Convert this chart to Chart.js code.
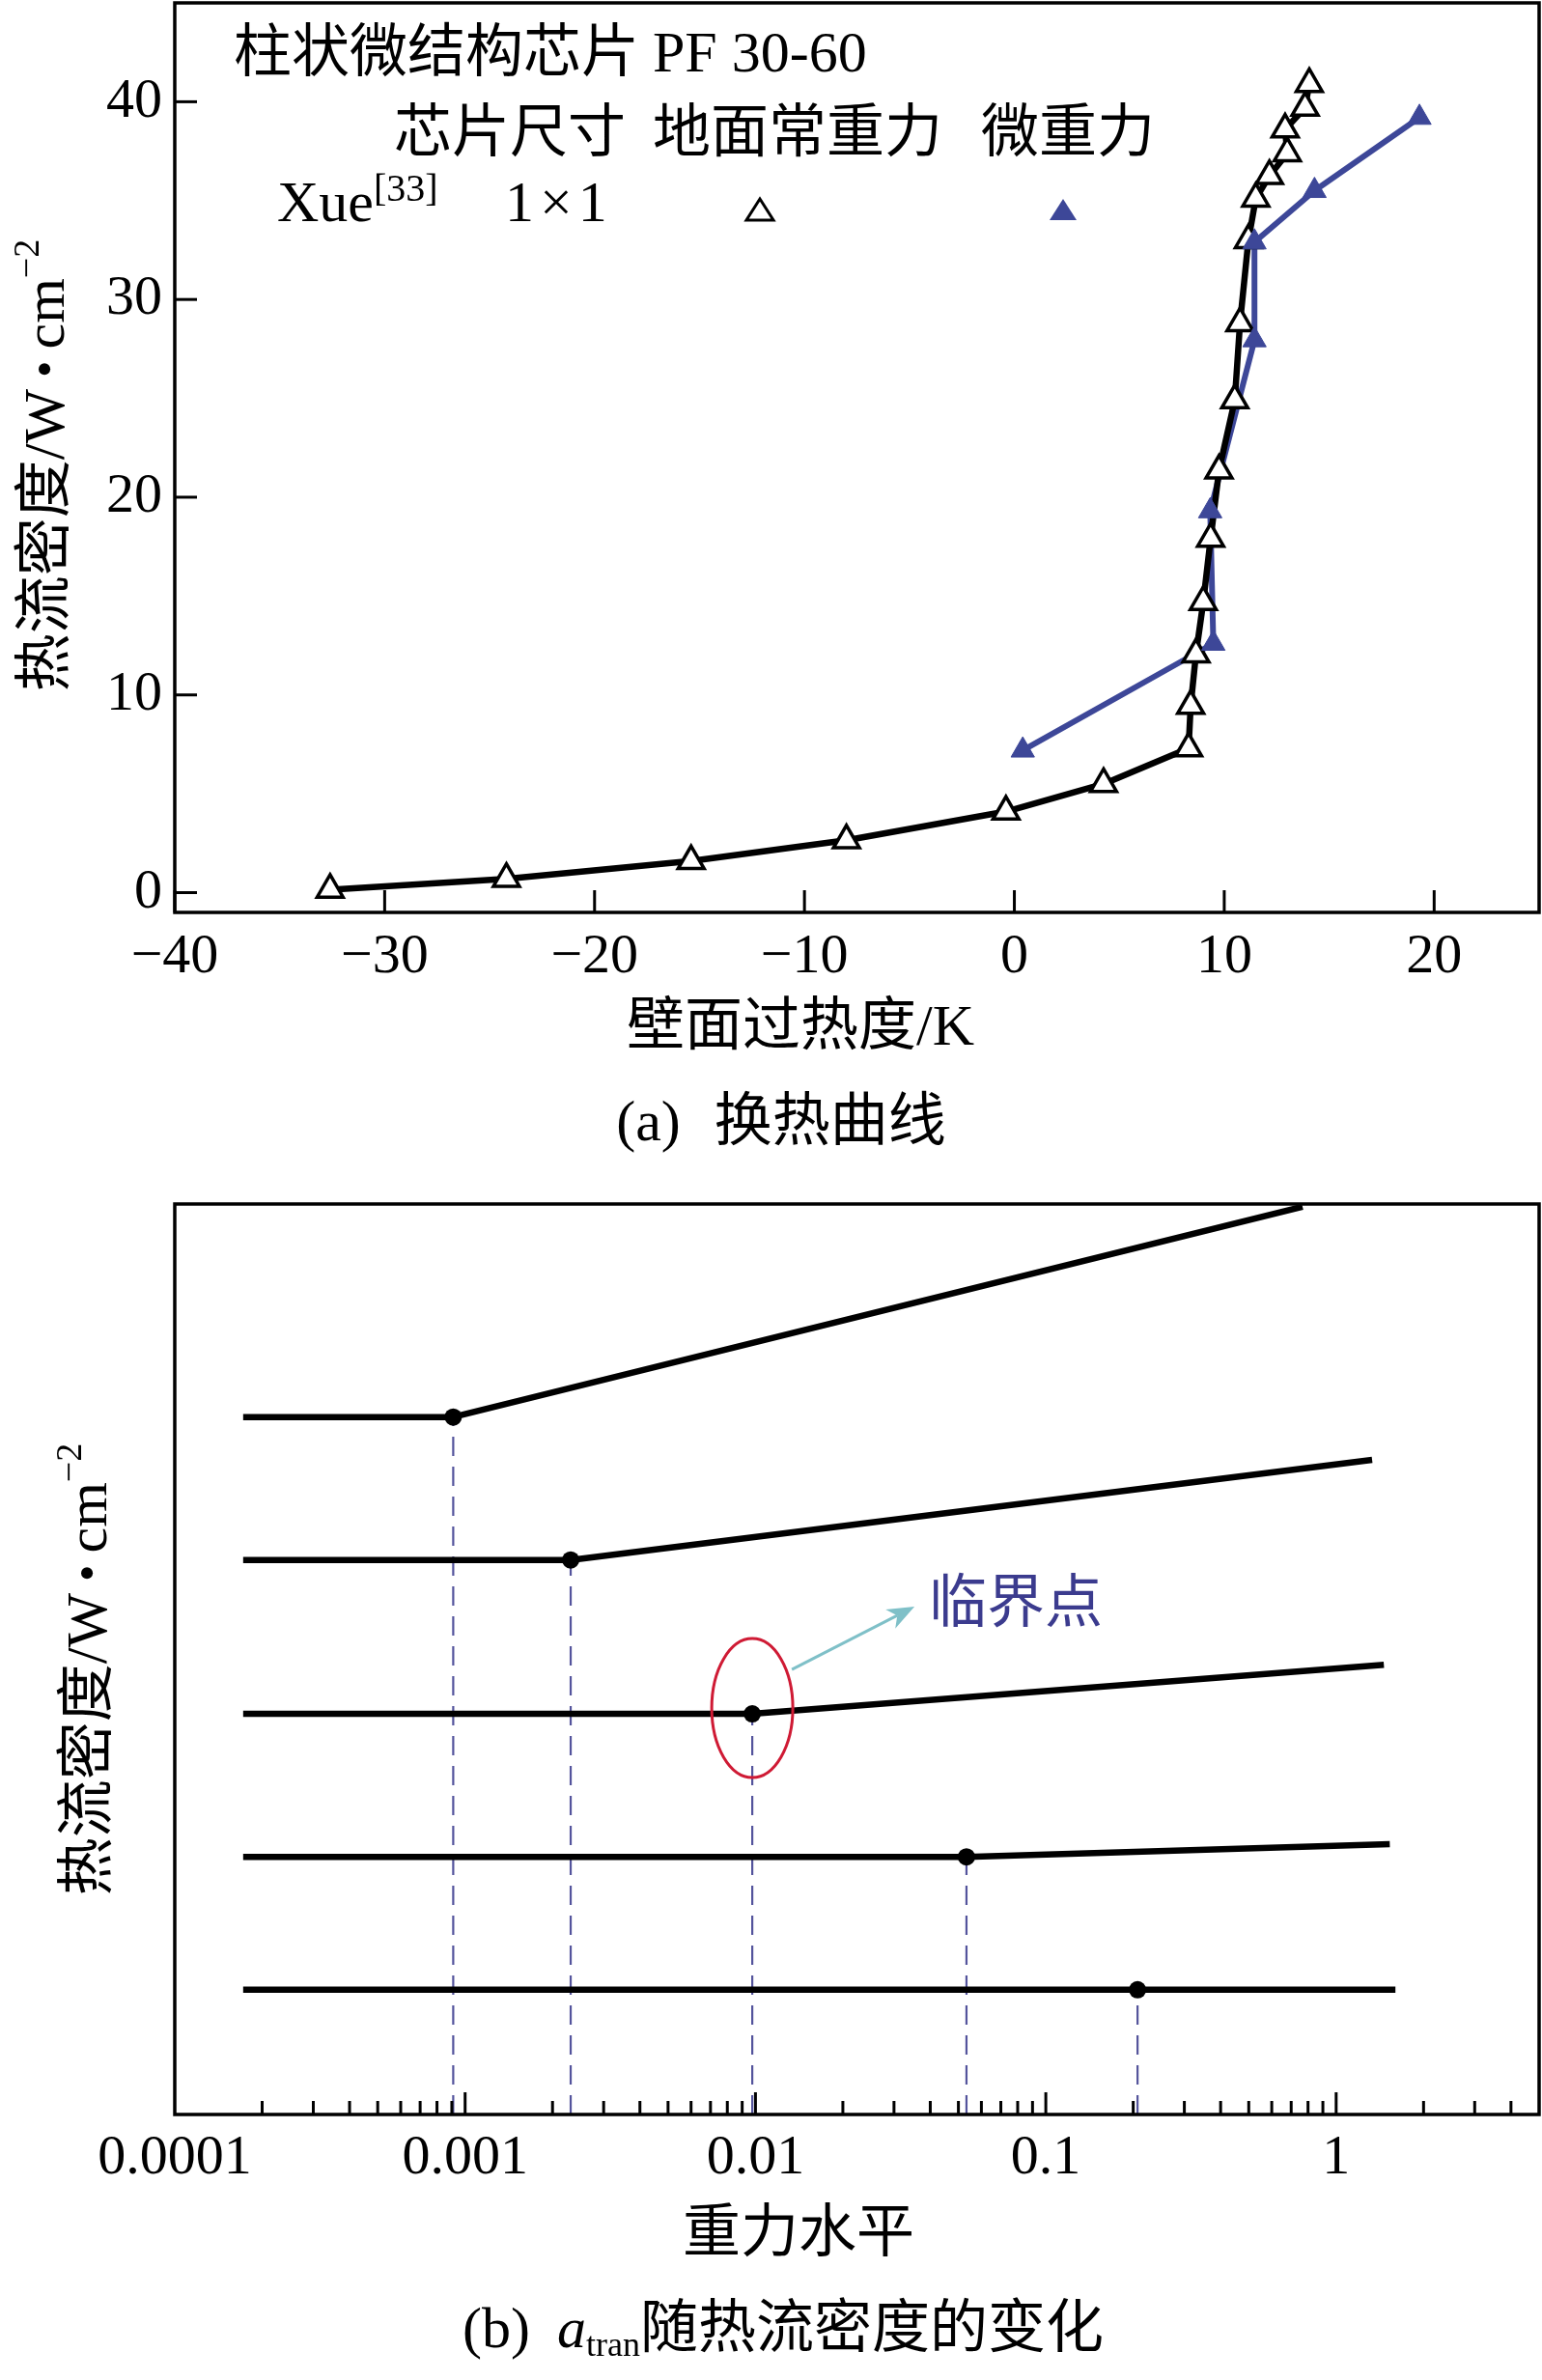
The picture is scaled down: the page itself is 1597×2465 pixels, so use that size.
<!DOCTYPE html>
<html><head><meta charset="utf-8">
<script src="https://cdn.jsdelivr.net/npm/chart.js@4.4.1/dist/chart.umd.min.js"></script>
<style>
html,body{margin:0;padding:0;background:#fff;}
#wrap{position:relative;width:1597px;height:2465px;background:#fff;overflow:hidden;}
#c1{position:absolute;left:0;top:0;}
#c2{position:absolute;left:0;top:1210px;}
</style></head>
<body><div id="wrap"><canvas id="c1" width="1597" height="1210"></canvas><canvas id="c2" width="1597" height="1255"></canvas></div>
<script>
// ---------- data: panel (a) ----------
const groundX = [-32.6, -24.2, -15.4, -8.0, -0.4, 4.25, 8.3, 8.4, 8.65, 9.0, 9.35, 9.75, 10.5, 10.75, 11.15, 11.5, 12.15, 13.0, 12.9, 13.85, 14.05];
const groundQ = [0.15, 0.7, 1.6, 2.65, 4.1, 5.5, 7.3, 9.45, 12.05, 14.7, 17.9, 21.35, 24.9, 28.8, 33.0, 35.1, 36.25, 37.4, 38.6, 39.7, 40.9];
const microX = [0.4, 9.48, 9.33, 11.44, 11.44, 14.3, 19.3];
const microQ = [7.2, 12.6, 19.3, 27.95, 32.9, 35.5, 39.2];
const xTicksA = [-40, -30, -20, -10, 0, 10, 20];
const yTicksA = [0, 10, 20, 30, 40];

// ---------- data: panel (b) ----------
const gStart = 1.72e-4;
const transG = [9.1e-4, 2.31e-3, 9.75e-3, 0.0533, 0.207];
const flatQ = [76.6, 60.9, 44.0, 28.3, 13.7];
const endG = [0.766, 1.33, 1.46, 1.53, 1.60];
const endQ = [99.7, 71.9, 49.4, 29.7, 13.7];
const gTicks = [1e-4, 1e-3, 1e-2, 0.1, 1];
const gTickLabels = ['0.0001', '0.001', '0.01', '0.1', '1'];

const BLUE = '#3d4798';
const DASH = '#54549c';
const SERIF = '"Liberation Serif", "Noto Sans CJK SC", serif';

function fontStr(s){ return `${s.style||'normal'} normal ${s.size}px ${s.family||SERIF}`; }
function richWidth(ctx, segs){ let w=0; segs.forEach(s=>{ctx.font=fontStr(s); w+=ctx.measureText(s.text).width+(s.gap||0);}); return w; }
function drawRich(ctx, segs, x, y, opts){
  opts = opts||{};
  ctx.save();
  ctx.translate(x,y);
  if (opts.rotate) ctx.rotate(opts.rotate);
  const w = richWidth(ctx, segs);
  let cx = opts.align==='center' ? -w/2 : 0;
  ctx.textBaseline='middle'; ctx.textAlign='left';
  segs.forEach(s=>{ ctx.font=fontStr(s); ctx.fillStyle=s.color||'#000'; ctx.fillText(s.text, cx, s.dy||0); cx += ctx.measureText(s.text).width+(s.gap||0); });
  ctx.restore();
}
function seg(ctx,x1,y1,x2,y2){ ctx.beginPath(); ctx.moveTo(x1,y1); ctx.lineTo(x2,y2); ctx.stroke(); }
function noPad(s){ s.paddingTop=0; s.paddingBottom=0; s.paddingLeft=0; s.paddingRight=0; }

const yTitleSegs = [{text:'热流密度/W',size:60,gap:12},{text:'•',size:50,gap:12},{text:'cm',size:60},{text:'−2',size:38,dy:-20}];

// ---------- panel (a) ----------
const plugA = {
  id:'plugA',
  afterDraw(chart){
    const {ctx, chartArea:a, scales:{x,y}} = chart;
    ctx.save();
    ctx.strokeStyle='#000'; ctx.lineWidth=3; ctx.lineCap='butt';
    xTicksA.forEach(v=>{const px=x.getPixelForValue(v); seg(ctx,px,a.bottom,px,a.bottom-23);});
    yTicksA.forEach(v=>{const py=y.getPixelForValue(v); seg(ctx,a.left,py,a.left+23,py);});
    ctx.lineWidth=3.5;
    ctx.strokeRect(a.left,a.top,a.right-a.left,a.bottom-a.top);
    // legend
    drawRich(ctx,[{text:'柱状微结构芯片',size:60}],242,58);
    drawRich(ctx,[{text:'PF 30-60',size:60}],676,58);
    drawRich(ctx,[{text:'芯片尺寸',size:60}],408,141);
    drawRich(ctx,[{text:'地面常重力',size:60}],676,141);
    drawRich(ctx,[{text:'微重力',size:60}],1016,141);
    drawRich(ctx,[{text:'Xue',size:60},{text:'[33]',size:40,dy:-16}],287,213);
    drawRich(ctx,[{text:'1',size:60,gap:6},{text:'×',size:60,gap:6},{text:'1',size:60}],523,213);
    ctx.lineWidth=3; ctx.strokeStyle='#000'; ctx.fillStyle='#fff'; ctx.lineJoin='miter';
    ctx.beginPath(); ctx.moveTo(787,206); ctx.lineTo(801,228); ctx.lineTo(773,228); ctx.closePath(); ctx.fill(); ctx.stroke();
    ctx.fillStyle=BLUE;
    ctx.beginPath(); ctx.moveTo(1101,206); ctx.lineTo(1115,228); ctx.lineTo(1087,228); ctx.closePath(); ctx.fill();
    // titles
    drawRich(ctx,yTitleSegs,50,482,{rotate:-Math.PI/2,align:'center'});
    drawRich(ctx,[{text:'壁面过热度/K',size:60}],829,1066,{align:'center'});
    drawRich(ctx,[{text:'(a)',size:60,gap:35},{text:'换热曲线',size:60}],809,1165,{align:'center'});
    ctx.restore();
  }
};

const blueData = microX.map((v,i)=>({x:v,y:microQ[i]}));
const blackData = groundX.map((v,i)=>({x:v,y:groundQ[i]}));

new Chart(document.getElementById('c1'),{
  type:'scatter',
  data:{datasets:[
    {data:blueData, showLine:false, pointStyle:'triangle', pointRadius:14, pointBackgroundColor:BLUE, pointBorderColor:BLUE, pointBorderWidth:1, order:0},
    {data:blackData, showLine:true, borderColor:'#000', borderWidth:6.5, borderJoinStyle:'round', pointStyle:'triangle', pointRadius:15.5, pointBackgroundColor:'#fff', pointBorderColor:'#000', pointBorderWidth:3.5, order:1},
    {data:blueData, showLine:true, borderColor:BLUE, borderWidth:6, borderJoinStyle:'round', pointRadius:0, order:2}
  ]},
  options:{
    responsive:false, animation:false, events:[],
    layout:{autoPadding:false, padding:{left:0,right:3,top:3,bottom:0}},
    plugins:{legend:{display:false},tooltip:{enabled:false}},
    scales:{
      x:{type:'linear',min:-40,max:25,
        afterBuildTicks:s=>{s.ticks=xTicksA.map(v=>({value:v}));},
        afterFit:s=>{s.height=265; noPad(s);},
        grid:{display:false,drawTicks:false}, border:{display:false},
        ticks:{padding:12,color:'#000',font:{family:'"Liberation Serif"',size:58},maxRotation:0,autoSkip:false,
          callback:v=>v<0?'−'+Math.abs(v):String(v)}},
      y:{type:'linear',min:-1,max:45,
        afterBuildTicks:s=>{s.ticks=yTicksA.map(v=>({value:v}));},
        afterFit:s=>{s.width=181; noPad(s);},
        grid:{display:false,drawTicks:false}, border:{display:false},
        ticks:{padding:13,color:'#000',font:{family:'"Liberation Serif"',size:58},autoSkip:false}}
    }
  },
  plugins:[plugA]
});

// ---------- panel (b) ----------
const plugB = {
  id:'plugB',
  afterDraw(chart){
    const {ctx, chartArea:a, scales:{x,y}} = chart;
    ctx.save();
    ctx.strokeStyle='#000'; ctx.lineWidth=3;
    for (let d=-4; d<=0; d++){
      for (let k=1; k<=9; k++){
        const v=k*Math.pow(10,d);
        if (v<=x.min*1.0001 || v>=x.max) continue;
        const px=x.getPixelForValue(v);
        seg(ctx,px,a.bottom,px,a.bottom-(k===1?23:14));
      }
    }
    ctx.lineWidth=3.5;
    ctx.strokeRect(a.left,a.top,a.right-a.left,a.bottom-a.top);
    // critical point annotation anchored at third transition point
    const dx=x.getPixelForValue(transG[2]), dy=y.getPixelForValue(flatQ[2]);
    ctx.strokeStyle='#cf1a34'; ctx.lineWidth=3;
    ctx.beginPath(); ctx.ellipse(dx, dy-6, 42, 72, 0, 0, Math.PI*2); ctx.stroke();
    const sx=dx+41, sy=dy-46, ex=dx+168, ey=dy-111;
    const ang=Math.atan2(ey-sy,ex-sx);
    ctx.strokeStyle='#7fc0c8'; ctx.fillStyle='#7fc0c8'; ctx.lineWidth=3;
    seg(ctx,sx,sy,ex-20*Math.cos(ang),ey-20*Math.sin(ang));
    ctx.beginPath(); ctx.moveTo(ex,ey);
    ctx.lineTo(ex-28*Math.cos(ang)+11*Math.sin(ang), ey-28*Math.sin(ang)-11*Math.cos(ang));
    ctx.lineTo(ex-20*Math.cos(ang), ey-20*Math.sin(ang));
    ctx.lineTo(ex-28*Math.cos(ang)-11*Math.sin(ang), ey-28*Math.sin(ang)+11*Math.cos(ang));
    ctx.closePath(); ctx.fill();
    drawRich(ctx,[{text:'临界点',size:60,color:'#3b3b8e'}],dx+183,dy-111);
    // titles
    drawRich(ctx,yTitleSegs,94,519,{rotate:-Math.PI/2,align:'center'});
    drawRich(ctx,[{text:'重力水平',size:60}],827,1106,{align:'center'});
    drawRich(ctx,[{text:'(b)',size:60,gap:28},{text:'a',size:60,style:'italic'},{text:'tran',size:36,dy:16},{text:'随热流密度的变化',size:60}],479,1205);
    ctx.restore();
  }
};

const dsB = [];
transG.forEach((g,i)=>{
  dsB.push({data:[{x:gStart,y:flatQ[i]},{x:g,y:flatQ[i]},{x:endG[i],y:endQ[i]}],
    showLine:true, borderColor:'#000', borderWidth:6.5, borderCapStyle:'butt', borderJoinStyle:'round',
    pointRadius:[0,9,0], pointBackgroundColor:'#000', pointBorderColor:'#000', pointBorderWidth:0, order:1});
});
transG.forEach((g,i)=>{
  dsB.push({data:[{x:g,y:0},{x:g,y:flatQ[i]}],
    showLine:true, borderColor:DASH, borderWidth:2.2, borderDash:[20,11], pointRadius:0, order:2});
});

new Chart(document.getElementById('c2'),{
  type:'scatter',
  data:{datasets:dsB},
  options:{
    responsive:false, animation:false, events:[],
    layout:{autoPadding:false, padding:{left:181,right:3,top:37,bottom:0}},
    plugins:{legend:{display:false},tooltip:{enabled:false}},
    scales:{
      x:{type:'logarithmic',min:1e-4,max:5,
        afterBuildTicks:s=>{s.ticks=gTicks.map(v=>({value:v}));},
        afterFit:s=>{s.height=275; noPad(s);},
        grid:{display:false,drawTicks:false}, border:{display:false},
        ticks:{padding:11,color:'#000',font:{family:'"Liberation Serif"',size:58},maxRotation:0,autoSkip:false,
          callback:function(v,i){return gTickLabels[i];}}},
      y:{type:'linear',min:0,max:100,display:false}
    }
  },
  plugins:[plugB]
});
</script></body></html>
